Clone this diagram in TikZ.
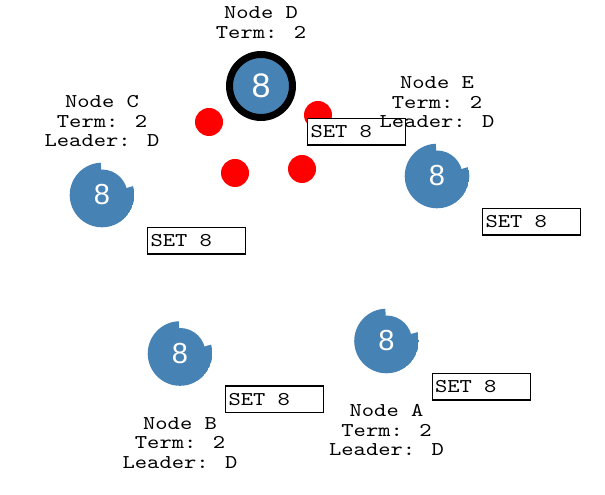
\documentclass[tikz,border=0pt]{standalone}
\usepackage{fontspec}
\newfontfamily\labelfont[FakeStretch=1.2]{lmmono10-regular.otf}
\newfontfamily\digitfont{Liberation Sans}
\usepackage{xcolor}
\usepackage{tikz}
\usetikzlibrary{positioning}

\definecolor{steel}{HTML}{4682B4}
\newcommand{\entry}[1]{\makebox[92pt][l]{#1}}

\begin{document}
\begin{tikzpicture}[
    x=1pt, y=1pt,
    leader/.style={circle, draw=black, line width=7pt, fill=steel, minimum size=63pt, inner sep=0pt, outer sep=0pt, text=white, font=\digitfont\fontsize{34}{34}\selectfont},
    follower/.style={circle, minimum size=64.6pt, inner sep=0pt, text=white, font=\digitfont\fontsize{29}{29}\selectfont,
        path picture={
            \fill[steel] (path picture bounding box.center) -- ++(16:32.3pt) arc[start angle=16, end angle=-268, radius=32.3pt] -- cycle;
            \fill[steel] (path picture bounding box.center) circle[radius=25.5pt];
        }},
    vote/.style={circle, fill=red, minimum size=28pt, inner sep=0pt},
    setbox/.style={rectangle, draw, line width=1.2pt, fill=white, inner xsep=3pt, inner ysep=0pt, minimum height=26.5pt, font=\labelfont\fontsize{19.5}{19.5}\selectfont},
    info/.style={align=center, inner sep=0pt, font=\labelfont\fontsize{19.5}{19.5}\selectfont}
]
    \useasboundingbox (0,0) rectangle (605,495);

    % Servers
    \node[leader] (d) at (261,409) {8};
    \node[follower] (c) at (102,300) {8};
    \node[follower] (e) at (437,319) {8};
    \node[follower] (b) at (180,141.5) {8};
    \node[follower] (a) at (386.5,154) {8};

    % Votes
    \node[vote] (v1) at (209,373) {};
    \node[vote] (v2) at (318,380) {};
    \node[vote] (v3) at (235,322) {};
    \node[vote] (v4) at (302,326) {};

    % Log entries
    \node[setbox, below right=32pt and 46pt of d.center] (sd) {\entry{SET 8}};
    \node[setbox, below right=32pt and 45pt of c.center] (sc) {\entry{SET 8}};
    \node[setbox, below right=32pt and 45pt of e.center] (se) {\entry{SET 8}};
    \node[setbox, below right=32pt and 45pt of b.center] (sb) {\entry{SET 8}};
    \node[setbox, below right=32pt and 45pt of a.center] (sa) {\entry{SET 8}};

    % State
    \node[info, above=16pt of d] (ld) {Node D\\Term: 2};
    \node[info, above=15.5pt of c] (lc) {Node C\\Term: 2\\Leader: D};
    \node[info, above=15.5pt of e] (le) {Node E\\Term: 2\\Leader: D};
    \node[info, below=31pt of b] (lb) {Node B\\Term: 2\\Leader: D};
    \node[info, below=31pt of a] (la) {Node A\\Term: 2\\Leader: D};
\end{tikzpicture}
\end{document}
